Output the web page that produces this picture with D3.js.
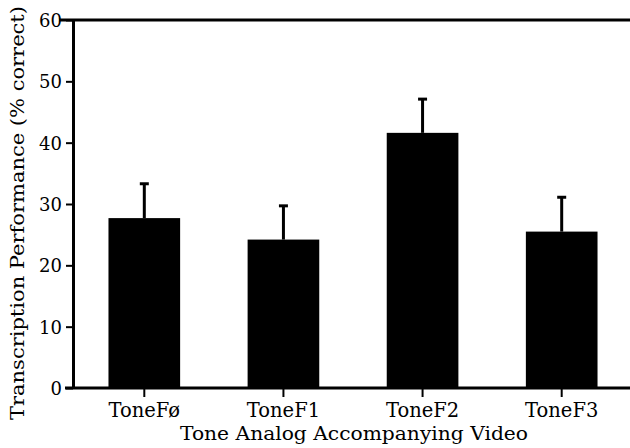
<!DOCTYPE html>
<html>
<head>
<meta charset="utf-8">
<script src="https://cdn.jsdelivr.net/npm/d3@7"></script>
<style>
  body { margin: 0; background: #fff; }
  text { font-family: "DejaVu Serif", serif; fill: #000; }
</style>
</head>
<body>
<div id="chart"></div>
<script>
// chart data
const categories = ['ToneFø', 'ToneF1', 'ToneF2', 'ToneF3'];
const means = [27.7, 24.2, 41.6, 25.5];
const errors = [5.6, 5.5, 5.5, 5.6];
const yTicks = [0, 10, 20, 30, 40, 50, 60];

const width = 630, height = 448;
const margin = { top: 20, right: 0, bottom: 60, left: 73 };

const svg = d3.select('#chart')
  .append('svg')
  .attr('width', width)
  .attr('height', height);

const x = d3.scaleBand()
  .domain(categories)
  .range([73, 633])
  .paddingInner(0.485)
  .paddingOuter(0.255);

const y = d3.scaleLinear()
  .domain([0, 60])
  .range([height - margin.bottom, margin.top]);

const data = categories.map((c, i) => ({ cat: c, mean: means[i], err: errors[i] }));
const cx = d => x(d.cat) + x.bandwidth() / 2;

// bars
svg.append('g').selectAll('rect')
  .data(data)
  .join('rect')
  .attr('x', d => x(d.cat))
  .attr('y', d => y(d.mean))
  .attr('width', x.bandwidth())
  .attr('height', d => y(0) - y(d.mean))
  .attr('fill', '#000');

// error bars (upper only)
const eb = svg.append('g').attr('stroke', '#000');
eb.selectAll('line.stem')
  .data(data)
  .join('line')
  .attr('class', 'stem')
  .attr('x1', cx)
  .attr('x2', cx)
  .attr('y1', d => y(d.mean))
  .attr('y2', d => y(d.mean + d.err))
  .attr('stroke-width', 3);
eb.selectAll('line.cap')
  .data(data)
  .join('line')
  .attr('class', 'cap')
  .attr('x1', d => cx(d) - 4.5)
  .attr('x2', d => cx(d) + 4.5)
  .attr('y1', d => y(d.mean + d.err))
  .attr('y2', d => y(d.mean + d.err))
  .attr('stroke-width', 3);

// y axis
const yAxis = svg.append('g')
  .attr('transform', `translate(${margin.left},0)`)
  .call(d3.axisLeft(y).tickValues(yTicks).tickSize(7).tickPadding(4).tickSizeOuter(0));
yAxis.select('.domain').attr('stroke-width', 3);
yAxis.selectAll('.tick line').attr('stroke-width', 2);
yAxis.selectAll('.tick text')
  .style('font-size', '18px')
  .attr('dy', '0.36em');

// x axis (baseline)
const xAxis = svg.append('g')
  .attr('transform', `translate(0,${y(0)})`)
  .call(d3.axisBottom(x).tickSize(9).tickPadding(6).tickSizeOuter(0));
xAxis.select('.domain').attr('d', `M65,0H${width}`).attr('stroke-width', 3);
xAxis.selectAll('.tick line').attr('stroke-width', 2);
xAxis.selectAll('.tick text').style('font-size', '19.5px');

// top frame line
svg.append('line')
  .attr('x1', 59).attr('x2', width)
  .attr('y1', y(60)).attr('y2', y(60))
  .attr('stroke', '#000')
  .attr('stroke-width', 3);

// axis titles
svg.append('text')
  .attr('x', 354)
  .attr('y', 440)
  .attr('text-anchor', 'middle')
  .attr('textLength', 348)
  .attr('lengthAdjust', 'spacingAndGlyphs')
  .style('font-size', '18px')
  .text('Tone Analog Accompanying Video');

svg.append('text')
  .attr('transform', `translate(24,213) rotate(-90)`)
  .attr('text-anchor', 'middle')
  .attr('textLength', 414)
  .attr('lengthAdjust', 'spacingAndGlyphs')
  .style('font-size', '18px')
  .text('Transcription Performance (% correct)');
</script>
</body>
</html>
